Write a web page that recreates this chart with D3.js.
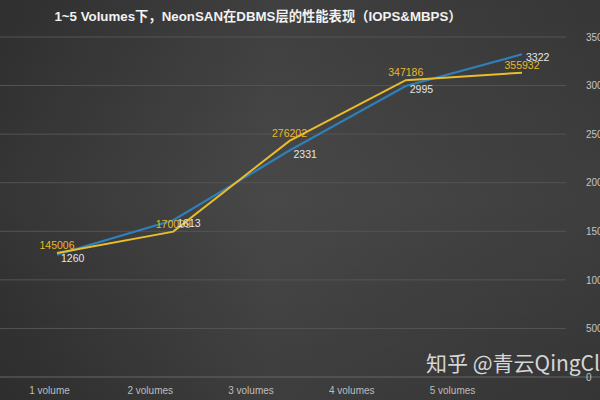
<!DOCTYPE html>
<html><head><meta charset="utf-8">
<script src="https://cdn.jsdelivr.net/npm/d3@7"></script>
<style>html,body{margin:0;padding:0;background:#3c3c3c;}svg{display:block;}</style>
</head><body>
<svg id="c" width="600" height="400"></svg>
<script>
const categories = ["1 volume","2 volumes","3 volumes","4 volumes","5 volumes"];
const iops = [145006, 170009, 276202, 347186, 355932];
const mbps = [1260, 1613, 2331, 2995, 3322];
const rightTicks = [0,500,1000,1500,2000,2500,3000,3500];
const titleText = "1~5 Volumes下，NeonSAN在DBMS层的性能表现（IOPS&MBPS）";
const watermark = "知乎 @青云QingCloud";

const svg = d3.select("#c");
const defs = svg.append("defs");
const g1 = defs.append("linearGradient").attr("id","bg").attr("x1","0").attr("x2","1").attr("y1","0").attr("y2","0");
g1.append("stop").attr("offset","0").attr("stop-color","#353535");
g1.append("stop").attr("offset","0.45").attr("stop-color","#484848");
g1.append("stop").attr("offset","1").attr("stop-color","#3e3e3e");
const g2 = defs.append("linearGradient").attr("id","vg").attr("x1","0").attr("x2","0").attr("y1","0").attr("y2","1");
g2.append("stop").attr("offset","0").attr("stop-color","#000").attr("stop-opacity",0.12);
g2.append("stop").attr("offset","0.5").attr("stop-color","#000").attr("stop-opacity",0);
g2.append("stop").attr("offset","1").attr("stop-color","#000").attr("stop-opacity",0.15);
svg.append("rect").attr("width",600).attr("height",400).attr("fill","url(#bg)");
svg.append("rect").attr("width",600).attr("height",400).attr("fill","url(#vg)");

const xLine = d3.scalePoint().domain(categories).range([57,522]);
const xLab = d3.scalePoint().domain(categories).range([49,452]);
const yR = d3.scaleLinear().domain([0,3500]).range([377,37]);
const yL = d3.scaleLinear().domain([0,400000]).range([377,35]);

// gridlines
svg.append("g").selectAll("line").data(rightTicks.filter(d=>d>0)).join("line")
  .attr("x1",0).attr("x2",566).attr("y1",d=>yR(d)).attr("y2",d=>yR(d))
  .attr("stroke","#555555").attr("stroke-width",1);
// baseline
svg.append("line").attr("x1",0).attr("x2",600).attr("y1",yR(0)).attr("y2",yR(0))
  .attr("stroke","#666666").attr("stroke-width",1);

// right axis
const ra = svg.append("g").attr("transform","translate(580,0)")
  .call(d3.axisRight(yR).tickValues(rightTicks).tickFormat(d3.format("d")).tickSize(0).tickPadding(6));
ra.select(".domain").remove();
ra.selectAll("text").attr("fill","#c4c4c4").style("font-family","Liberation Sans, Arial, sans-serif").style("font-size","10px");

// bottom axis
const ba = svg.append("g").attr("transform","translate(0,385)")
  .call(d3.axisBottom(xLab).tickSize(0).tickPadding(2));
ba.select(".domain").remove();
ba.selectAll("text").attr("fill","#bdbdbd").style("font-family","Liberation Sans, Arial, sans-serif").style("font-size","10px");

// watermark
svg.append("text").attr("x",426).attr("y",371).text(watermark)
  .attr("fill","#ededed").attr("fill-opacity",0.88)
  .style("font-family","Noto Sans CJK SC, sans-serif").style("font-size","21px");

// lines
const lineY = d3.line().x((d,i)=>xLine(categories[i])).y(d=>yL(d));
const lineB = d3.line().x((d,i)=>xLine(categories[i])).y(d=>yR(d));
svg.append("path").datum(mbps).attr("d",lineB).attr("fill","none").attr("stroke","#2f7fb8").attr("stroke-width",2.2);
svg.append("path").datum(iops).attr("d",lineY).attr("fill","none").attr("stroke","#e9bd2a").attr("stroke-width",2);

// labels
svg.append("g").selectAll("text").data(iops).join("text")
  .attr("x",(d,i)=>xLine(categories[i])).attr("y",d=>yL(d)-4)
  .attr("text-anchor","middle").text(d=>d)
  .attr("fill","#e9b929").style("font-family","Liberation Sans, Arial, sans-serif").style("font-size","10.5px");
svg.append("g").selectAll("text").data(mbps).join("text")
  .attr("x",(d,i)=>xLine(categories[i])+4).attr("y",d=>yR(d)+7)
  .attr("text-anchor","start").text(d=>d)
  .attr("fill","#e6e6e6").style("font-family","Liberation Sans, Arial, sans-serif").style("font-size","10.5px");

// title
svg.append("text").attr("x",258).attr("y",21).attr("text-anchor","middle").text(titleText)
  .attr("fill","#f2f2f2").style("font-family","Liberation Sans, Noto Sans CJK SC, sans-serif").style("font-size","13.3px").style("font-weight","bold");
</script>
</body></html>
